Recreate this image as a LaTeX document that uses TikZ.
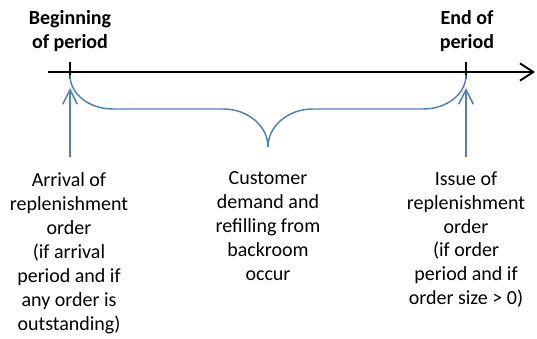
\documentclass[tikz,border=0pt]{standalone}
\usepackage{fontspec}
\setmainfont{Carlito}
\usetikzlibrary{arrows.meta}

\definecolor{braceblue}{RGB}{79,129,189}

\tikzset{every picture/.style={line width=0.75pt}}
\tikzset{
  txt/.style={align=center, inner sep=0pt, font=\fontsize{15}{18}\selectfont},
  head/.style={txt, font=\fontsize{15}{17.5}\selectfont\bfseries},
  timeline/.style={line width=1.4pt, -{Straight Barb[length=10pt,width=13pt,line width=1.4pt]}},
  event/.style={braceblue, line width=1.1pt, -{Straight Barb[length=11pt,width=11pt,line width=1.1pt]}},
}

\begin{document}
\begin{tikzpicture}[x=0.75pt,y=0.75pt,yscale=-1,xscale=1]
	\useasboundingbox (0,0) rectangle (537,339);

	%Coordinates on the time axis
	\coordinate (axisL) at (48,72);
	\coordinate (axisR) at (535,72);
	\coordinate (t0) at (70,72);
	\coordinate (t1) at (466,72);

	%Straight Lines: time axis
	\draw [timeline] (axisL) -- (axisR);
	%Straight Lines: period ticks
	\draw [line width=1.1pt] (70,62) -- (70,79);
	\draw [line width=1.1pt] (466,62) -- (466,79);

	%Text Node: tick labels (base = last line)
	\node [head, anchor=base] (begin) at (70,48) {Beginning\\of period};
	\node [head, anchor=base] (end) at (467,48) {End of\\period};

	%Curve Lines: brace under the period
	\draw [braceblue, line width=1.1pt] (70,75) .. controls (70,94) and (89,109) .. (113,109) -- (223,109) .. controls (248,109) and (268,126) .. (268,147) ;
	\draw [braceblue, line width=1.1pt] (268,147) .. controls (268,126) and (288,109) .. (313,109) -- (423,109) .. controls (447,109) and (466,94) .. (466,75) ;

	%Text Node: descriptions
	\node [txt, anchor=base] (arrival) at (69,330) {Arrival of\\replenishment\\order\\(if arrival\\period and if\\any order is\\outstanding)};
	\node [txt, anchor=base] (demand) at (268,280) {Customer\\demand and\\refilling from\\backroom\\occur};
	\node [txt, anchor=base] (issue) at (466,305) {Issue of\\replenishment\\order\\(if order\\period and if\\order size > 0)};

	%Straight Lines: event arrows
	\coordinate (arrivalTip) at (70,88);
	\coordinate (arrivalFoot) at (70,157);
	\coordinate (issueTip) at (466,88);
	\coordinate (issueFoot) at (466,157);
	\draw [event] (arrivalFoot) -- (arrivalTip);
	\draw [event] (issueFoot) -- (issueTip);

\end{tikzpicture}
\end{document}
